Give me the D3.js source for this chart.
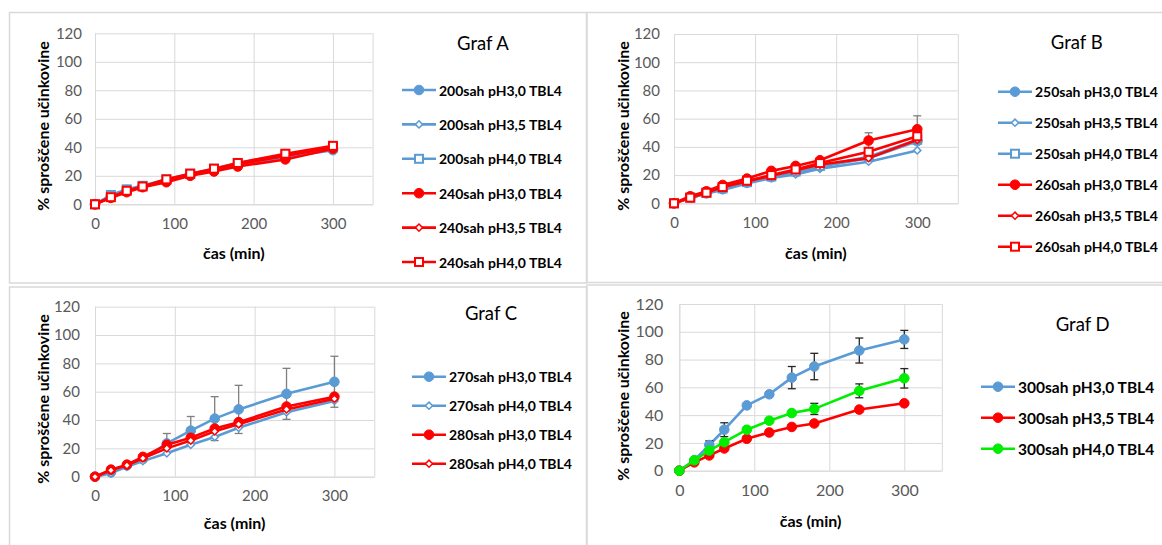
<!DOCTYPE html>
<html><head><meta charset="utf-8">
<script src="https://cdn.jsdelivr.net/npm/d3@7"></script>
<style>
body{margin:0;background:#fff;}
svg{display:block;font-family:Lato,"Open Sans",sans-serif;}
</style>
</head><body>
<svg id="chart" width="1162" height="545"></svg>
<script>
// ---------- data ----------
const times = [0, 20, 40, 60, 90, 120, 150, 180, 240, 300];
const xTicks = [0, 100, 200, 300];
const yTicks = [0, 20, 40, 60, 80, 100, 120];
const yTitle = "% sproščene učinkovine";
const xTitle = "čas (min)";
const panelTitles = ["Graf A", "Graf B", "Graf C", "Graf D"];

// Graf A
const namesA = ["200sah pH3,0 TBL4", "200sah pH3,5 TBL4", "200sah pH4,0 TBL4",
                "240sah pH3,0 TBL4", "240sah pH3,5 TBL4", "240sah pH4,0 TBL4"];
const a200pH30 = [0, 6, 10, 12.5, 16, 20.5, 23.5, 27, 33, 38];
const a200pH35 = [0, 5.5, 9.5, 12, 16.5, 21, 24, 28, 34, 39];
const a200pH40 = [0, 6.5, 10.5, 13, 17.5, 21.5, 25, 29, 35, 40];
const a240pH30 = [0, 4.5, 8.5, 12, 15.5, 20, 23, 26.5, 31.5, 39];
const a240pH35 = [0, 5, 9, 12.5, 16.5, 21, 24.5, 28, 34, 40];
const a240pH40 = [0, 5, 9.5, 12.5, 17.5, 21.5, 25, 29, 35.5, 41];
const errA240pH40 = [0, 0, 0, 0, 0, 0, 0, 0, 1.5, 3];

// Graf B
const namesB = ["250sah pH3,0 TBL4", "250sah pH3,5 TBL4", "250sah pH4,0 TBL4",
                "260sah pH3,0 TBL4", "260sah pH3,5 TBL4", "260sah pH4,0 TBL4"];
const b250pH30 = [0, 4, 7, 10, 14.5, 18.5, 22, 26, 32, 44];
const b250pH35 = [0, 3.5, 7, 9.5, 14, 18, 20.5, 24.5, 29.5, 37.5];
const b250pH40 = [0, 4, 7.5, 10.5, 15, 19, 22.5, 26.5, 33, 45];
const b260pH30 = [0, 5, 8.5, 13, 17.5, 23, 26.5, 30.5, 44.5, 52.5];
const b260pH35 = [0, 4.5, 8, 11.5, 15.5, 19.5, 23.5, 27.5, 32, 45];
const b260pH40 = [0, 4, 7.5, 11.5, 16, 20, 24, 28.5, 36.5, 47.5];
const errB260pH30 = [0, 0, 0, 0, 0, 0, 0, 0, 5.5, 9.5];

// Graf C
const namesC = ["270sah pH3,0 TBL4", "270sah pH4,0 TBL4", "280sah pH3,0 TBL4", "280sah pH4,0 TBL4"];
const c270pH30 = [0, 3, 8, 12.5, 23.5, 32.5, 41, 47.5, 58.5, 67];
const c270pH40 = [0, 2.5, 7, 11, 16.5, 22.5, 28, 34.5, 45.5, 53.5];
const c280pH30 = [0, 5, 8.5, 14, 22.5, 27.5, 34, 38.5, 49.5, 56.5];
const c280pH40 = [0, 4.5, 8, 13, 20, 25.5, 32, 37, 47.5, 55];
const errC270pH30 = [0, 0, 0, 0, 7, 10, 15.5, 17, 18, 18];

// Graf D
const namesD = ["300sah pH3,0 TBL4", "300sah pH3,5 TBL4", "300sah pH4,0 TBL4"];
const d300pH30 = [0, 7.5, 18.5, 29.5, 47, 55, 67, 75, 86.5, 94.5];
const d300pH35 = [0, 6, 11, 16, 23, 27.5, 31.5, 34, 44, 48.5];
const d300pH40 = [0, 7.5, 14.5, 20.5, 29.5, 36, 41.5, 44.5, 57.5, 66.5];
const errD300pH30 = [0, 0, 3, 5, 0, 0, 8, 9.5, 9, 6.5];
const errD300pH40 = [0, 0, 0, 0, 0, 0, 1.5, 4, 5, 7];

// ---------- styles ----------
const BLUE = "#5B9BD5", RED = "#FF0000", GREEN = "#00EE00";
const none = times.map(() => 0);

const panels = [
  { title: panelTitles[0], box: [9.5, 12.5, 577, 270.5],
    px: [95, 372.6], py: [204.3, 33.3], ytX: 42, ytY: 126, xtY: 252, tickFs: 15, tickPadY: 13,
    leg: { tx: 483, ty: 43, lx: 402, ly: 90, step: 34.4, fs: 14 }, errColor: "#595959",
    series: [
      { name: namesA[0], v: a200pH30, e: none, c: BLUE, m: "circle" },
      { name: namesA[1], v: a200pH35, e: none, c: BLUE, m: "diamond" },
      { name: namesA[2], v: a200pH40, e: none, c: BLUE, m: "square" },
      { name: namesA[3], v: a240pH30, e: none, c: RED, m: "circle" },
      { name: namesA[4], v: a240pH35, e: none, c: RED, m: "diamond" },
      { name: namesA[5], v: a240pH40, e: errA240pH40, c: RED, m: "square" } ] },
  { title: panelTitles[1], box: [587, 12.5, 600, 270],
    px: [674, 957.8], py: [203.3, 34], ytX: 622, ytY: 126, xtY: 252.7, tickFs: 15, tickPadY: 14,
    leg: { tx: 1076.7, ty: 42, lx: 998, ly: 91.7, step: 31, fs: 14 }, errColor: "#7f7f7f",
    series: [
      { name: namesB[0], v: b250pH30, e: none, c: BLUE, m: "circle" },
      { name: namesB[1], v: b250pH35, e: none, c: BLUE, m: "diamond" },
      { name: namesB[2], v: b250pH40, e: none, c: BLUE, m: "square" },
      { name: namesB[3], v: b260pH30, e: errB260pH30, c: RED, m: "circle" },
      { name: namesB[4], v: b260pH35, e: none, c: RED, m: "diamond" },
      { name: namesB[5], v: b260pH40, e: none, c: RED, m: "square" } ] },
  { title: panelTitles[2], box: [9.5, 287, 577, 270],
    px: [95, 374.3], py: [476.7, 306.7], ytX: 42, ytY: 399, xtY: 522.7, tickFs: 15, tickPadY: 15,
    leg: { tx: 491, ty: 313, lx: 412, ly: 376.7, step: 29, fs: 14 }, errColor: "#7f7f7f",
    series: [
      { name: namesC[0], v: c270pH30, e: errC270pH30, c: BLUE, m: "circle" },
      { name: namesC[1], v: c270pH40, e: none, c: BLUE, m: "diamond" },
      { name: namesC[2], v: c280pH30, e: none, c: RED, m: "circle" },
      { name: namesC[3], v: c280pH40, e: none, c: RED, m: "diamond" } ] },
  { title: panelTitles[3], box: [587, 285, 600, 270],
    px: [679.3, 941.8], py: [470.7, 304], ytX: 622, ytY: 396, xtY: 520, tickFs: 16, tickPadY: 16,
    leg: { tx: 1082.7, ty: 324, lx: 981, ly: 386.7, step: 31, fs: 15.5 }, errColor: "#262626",
    series: [
      { name: namesD[0], v: d300pH30, e: errD300pH30, c: BLUE, m: "circle" },
      { name: namesD[1], v: d300pH35, e: none, c: RED, m: "circle" },
      { name: namesD[2], v: d300pH40, e: errD300pH40, c: GREEN, m: "circle" } ] }
];

const svg = d3.select("#chart");

function drawMarker(g, m, cx, cy, color, scale) {
  const s = scale || 1;
  if (m === "circle") {
    g.append("circle").attr("cx", cx).attr("cy", cy).attr("r", 4.8 * s)
      .attr("fill", color).attr("stroke", color).attr("stroke-width", 1);
  } else if (m === "diamond") {
    const h = 3.6 * s;
    g.append("path").attr("d", `M${cx},${cy - h}L${cx + h},${cy}L${cx},${cy + h}L${cx - h},${cy}Z`)
      .attr("fill", "#fff").attr("stroke", color).attr("stroke-width", 1.5);
  } else if (m === "square") {
    const h = 4 * s;
    g.append("rect").attr("x", cx - h).attr("y", cy - h).attr("width", 2 * h).attr("height", 2 * h)
      .attr("fill", "#fff").attr("stroke", color).attr("stroke-width", 2);
  }
}

panels.forEach(p => {
  const g = svg.append("g");
  g.append("rect").attr("x", p.box[0]).attr("y", p.box[1]).attr("width", p.box[2]).attr("height", p.box[3])
    .attr("fill", "#fff").attr("stroke", "#d9d9d9").attr("stroke-width", 1.5);

  const x = d3.scaleLinear().domain([0, 350]).range(p.px);
  const y = d3.scaleLinear().domain([0, 120]).range(p.py);
  const w = p.px[1] - p.px[0], h = p.py[0] - p.py[1];

  const ya = g.append("g").attr("transform", `translate(${p.px[0]},0)`)
    .call(d3.axisLeft(y).tickValues(yTicks).tickSize(-w).tickPadding(p.tickPadY).tickFormat(d3.format("d")));
  ya.select(".domain").remove();
  ya.selectAll("line").attr("stroke", "#d9d9d9").attr("stroke-width", 1);
  ya.selectAll("text").attr("fill", "#595959").style("font-size", p.tickFs + "px").style("font-family", "Lato");

  const xa = g.append("g").attr("transform", `translate(0,${p.py[0]})`)
    .call(d3.axisBottom(x).tickValues(xTicks).tickSize(-h).tickPadding(14).tickFormat(d3.format("d")));
  xa.select(".domain").attr("stroke", "#d9d9d9");
  xa.selectAll("line").attr("stroke", "#d9d9d9").attr("stroke-width", 1);
  xa.selectAll("text").attr("fill", "#595959").style("font-size", p.tickFs + "px").style("font-family", "Lato");

  g.append("text").attr("transform", `translate(${p.ytX},${p.ytY}) rotate(-90)`)
    .attr("text-anchor", "middle").attr("dominant-baseline", "central")
    .style("font-weight", "bold").style("font-size", "16px").attr("fill", "#000").text(yTitle);
  g.append("text").attr("x", (p.px[0] + p.px[1]) / 2).attr("y", p.xtY)
    .attr("text-anchor", "middle").attr("dominant-baseline", "central")
    .style("font-weight", "bold").style("font-size", "16px").attr("fill", "#000").text(xTitle);

  const line = d3.line().x((d, i) => x(times[i])).y(d => y(d));
  p.series.forEach(s => {
    const sg = g.append("g");
    sg.append("path").attr("d", line(s.v)).attr("fill", "none").attr("stroke", s.c)
      .attr("stroke-width", 2.6).attr("stroke-linejoin", "round");
    s.v.forEach((v, i) => {
      const e = s.e[i];
      if (e > 0) {
        const cx = x(times[i]);
        const eg = sg.append("g").attr("stroke", p.errColor).attr("stroke-width", 1.3);
        eg.append("line").attr("x1", cx).attr("x2", cx).attr("y1", y(v - e)).attr("y2", y(v + e));
        eg.append("line").attr("x1", cx - 4).attr("x2", cx + 4).attr("y1", y(v - e)).attr("y2", y(v - e));
        eg.append("line").attr("x1", cx - 4).attr("x2", cx + 4).attr("y1", y(v + e)).attr("y2", y(v + e));
      }
    });
    s.v.forEach((v, i) => drawMarker(sg, s.m, x(times[i]), y(v), s.c));
  });

  const L = p.leg;
  g.append("text").attr("x", L.tx).attr("y", L.ty).attr("text-anchor", "middle")
    .attr("dominant-baseline", "central").style("font-size", "18.5px").attr("fill", "#000").text(p.title);
  p.series.forEach((s, i) => {
    const ly = L.ly + i * L.step;
    g.append("line").attr("x1", L.lx).attr("x2", L.lx + 34).attr("y1", ly).attr("y2", ly)
      .attr("stroke", s.c).attr("stroke-width", 2.6);
    drawMarker(g, s.m, L.lx + 17, ly, s.c);
    g.append("text").attr("x", L.lx + 37).attr("y", ly).attr("dominant-baseline", "central")
      .style("font-weight", "bold").style("font-size", L.fs + "px").attr("fill", "#000").text(s.name);
  });
});
</script>
</body></html>
